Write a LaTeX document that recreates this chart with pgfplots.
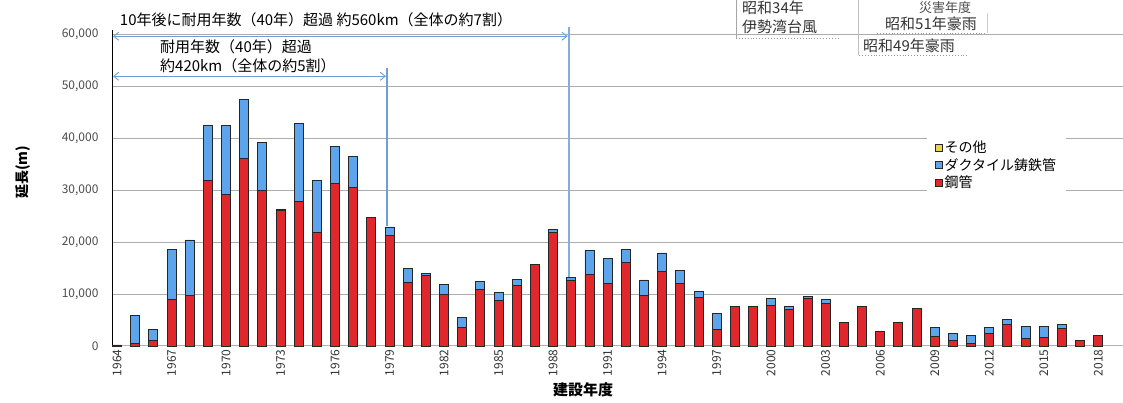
\documentclass[border=0pt]{standalone}
\usepackage{fontspec}
\setmainfont{Noto Sans CJK JP}
\usepackage{pgfplots}
\pgfplotsset{compat=1.18}
\usetikzlibrary{arrows.meta}

\definecolor{pipered}{HTML}{E0282C}
\definecolor{pipeblue}{HTML}{5CA5EC}
\definecolor{pipeyellow}{HTML}{E6D64C}
\definecolor{annblue}{HTML}{6E9ED6}

\pgfplotsset{
  sq legend/.style={legend image code/.code={%
    \draw[##1, line width=0.5pt] (0pt,-3.5pt) rectangle (7pt,3.5pt);}},
}

% 鋼管
\pgfplotstableread{
year val
1964 200
1965 400
1966 1150
1967 9000
1968 9700
1969 31900
1970 29200
1971 36000
1972 30000
1973 26000
1974 27800
1975 21800
1976 31200
1977 30500
1978 24800
1979 21300
1980 12300
1981 13500
1982 10000
1983 3500
1984 10800
1985 8700
1986 11700
1987 15600
1988 21800
1989 12700
1990 13800
1991 12000
1992 16000
1993 9700
1994 14400
1995 12000
1996 9400
1997 3100
1998 7600
1999 7600
2000 7800
2001 7000
2002 9200
2003 8100
2004 4600
2005 7600
2006 2850
2007 4500
2008 7150
2009 1800
2010 1100
2011 400
2012 2400
2013 4100
2014 1450
2015 1600
2016 3350
2017 1000
2018 2100
}\steel

% ダクタイル鋳鉄管
\pgfplotstableread{
year val
1964 0
1965 5400
1966 2050
1967 9650
1968 10700
1969 10600
1970 13200
1971 11400
1972 9100
1973 300
1974 15000
1975 10100
1976 7100
1977 5900
1978 0
1979 1600
1980 2600
1981 400
1982 1900
1983 2000
1984 1700
1985 1600
1986 1100
1987 0
1988 600
1989 500
1990 4500
1991 4900
1992 2600
1993 3000
1994 3500
1995 2500
1996 1100
1997 3200
1998 0
1999 0
2000 1400
2001 600
2002 300
2003 800
2004 0
2005 0
2006 0
2007 0
2008 0
2009 1700
2010 1400
2011 1700
2012 1150
2013 1000
2014 2350
2015 2200
2016 850
2017 0
2018 0
}\ductile

\begin{document}
\begin{tikzpicture}
\path[use as bounding box] (0pt,0pt) rectangle (1123pt,403pt);
\begin{axis}[
    at={(112pt,57pt)}, anchor=south west,
    scale only axis,
    width=1011pt, height=316pt,
    ybar stacked,
    bar width=9pt,
    xmin=1963.725, xmax=2019.36,
    ymin=0, ymax=60800,
    xtick={1964,1967,...,2018},
    ytick={0,10000,...,60000},
    scaled y ticks=false,
    /pgf/number format/assume math mode=true,
    x tick label style={/pgf/number format/1000 sep={}, rotate=90, anchor=east,
        font=\fontsize{12}{14}\selectfont, text=black!80},
    y tick label style={/pgf/number format/1000 sep={,},
        font=\fontsize{12}{14}\selectfont, text=black!70, xshift=-10pt},
    major tick length=0pt,
    axis lines=left,
    axis line style={-},
    x axis line style={draw=gray!60, line width=1pt},
    y axis line style={draw=black, line width=1pt},
    ymajorgrids,
    grid style={gray!65, line width=1pt},
    xlabel={\textbf{建設年度}},
    ylabel={\textbf{延長(m)}},
    xlabel style={at={(axis description cs:0.466,-0.14)}, anchor=center,
        font=\fontsize{15}{17}\selectfont},
    ylabel style={at={(axis description cs:-0.088,0.55)}, anchor=center,
        font=\fontsize{14}{16}\selectfont},
    legend style={at={(0.806,0.668)}, anchor=north west, fill=white, draw=none,
        font=\fontsize{14}{18}\selectfont, cells={anchor=west},
        inner xsep=8pt, inner ysep=4pt},
    reverse legend,
    clip=false,
]
\addplot[sq legend, fill=pipered, draw=black!85, line width=0.9pt] table[x=year, y=val] {\steel};
\addlegendentry{鋼管}
\addplot[sq legend, fill=pipeblue, draw=black!85, line width=0.9pt] table[x=year, y=val] {\ductile};
\addlegendentry{ダクタイル鋳鉄管}
\addlegendimage{sq legend, fill=pipeyellow, draw=black!85}
\addlegendentry{その他}

% 耐用年数超過の注記
\draw[annblue!85, line width=2pt] (axis cs:1988.88,61300) -- (axis cs:1988.88,11700);
\draw[annblue, line width=1.6pt] (axis cs:1978.86,53500) -- (axis cs:1978.86,23000);
\draw[annblue, line width=0.9pt, {Straight Barb[length=5pt,width=8pt]}-{Straight Barb[length=5pt,width=8pt]}]
    (axis cs:1963.78,59600) -- (axis cs:1988.8,59600);
\draw[annblue, line width=0.9pt, {Straight Barb[length=5pt,width=8pt]}-{Straight Barb[length=5pt,width=8pt]}]
    (axis cs:1963.78,51900) -- (axis cs:1978.8,51900);
\end{axis}

\node[font=\fontsize{15}{17}\selectfont] at (316pt,383pt) {10年後に耐用年数（40年）超過\ 約560km（全体の約7割）};
\node[anchor=west, font=\fontsize{15}{17}\selectfont, inner sep=0pt] at (160pt,356pt) {耐用年数（40年）超過};
\node[anchor=west, font=\fontsize{15}{17}\selectfont, inner sep=0pt] at (160pt,337pt) {約420km（全体の約5割）};

% 災害年度の囲み
\draw[gray!70, line width=0.8pt] (736pt,403pt) -- (736pt,365pt);
\draw[gray!80, line width=0.9pt, dotted] (736pt,365pt) -- (840pt,365pt);
\node[anchor=west, font=\fontsize{15}{17}\selectfont, inner sep=0pt, text=black!80] at (742pt,395pt) {昭和34年};
\node[anchor=west, font=\fontsize{15}{17}\selectfont, inner sep=0pt, text=black!80] at (742pt,376pt) {伊勢湾台風};
\draw[gray!50, line width=0.8pt] (858pt,403pt) -- (858pt,348pt);
\draw[gray!40, line width=0.6pt] (987pt,390pt) -- (987pt,370pt);
\node[font=\fontsize{13}{15}\selectfont, inner sep=0pt, text=black!70] at (945pt,395pt) {災害年度};
\node[anchor=west, font=\fontsize{15}{17}\selectfont, inner sep=0pt, text=black!80] at (885pt,379pt) {昭和51年豪雨};
\draw[gray!80, line width=0.9pt, dotted] (877pt,370pt) -- (987pt,370pt);
\node[anchor=west, font=\fontsize{15}{17}\selectfont, inner sep=0pt, text=black!80] at (863pt,357pt) {昭和49年豪雨};
\draw[gray!80, line width=0.9pt, dotted] (859pt,348pt) -- (967pt,348pt);
\end{tikzpicture}
\end{document}
